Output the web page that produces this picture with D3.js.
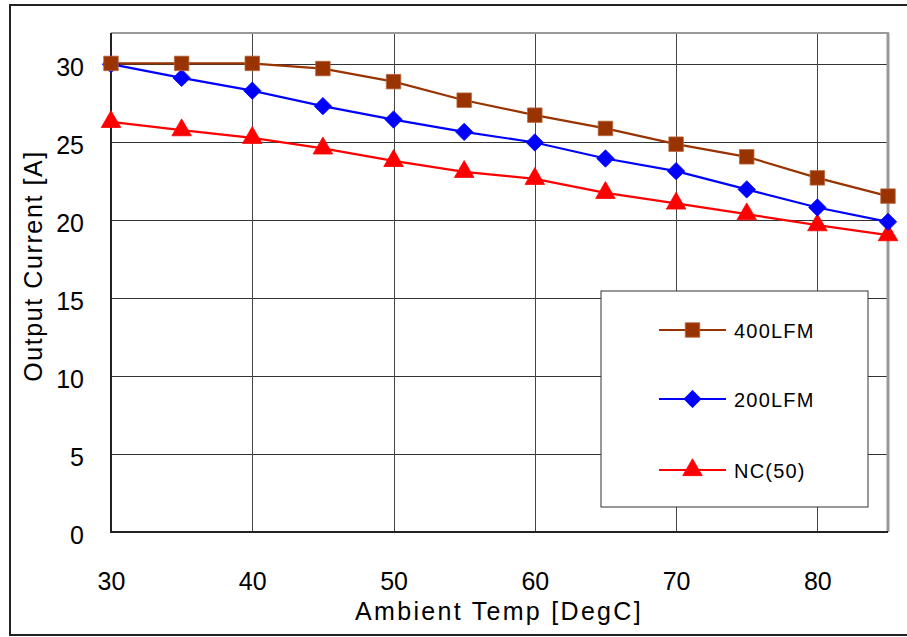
<!DOCTYPE html>
<html>
<head>
<meta charset="utf-8">
<script src="https://cdn.jsdelivr.net/npm/d3@7"></script>
<style>
  html, body { margin: 0; padding: 0; background: #fff; }
  svg { display: block; }
  text { font-family: "Liberation Sans", Arial, sans-serif; fill: #000; }
</style>
</head>
<body>
<svg id="chart" width="907" height="637"></svg>
<script>
// ---- data ----
const temps = [30, 35, 40, 45, 50, 55, 60, 65, 70, 75, 80, 85];
const lfm400 = [30.05, 30.05, 30.05, 29.72, 28.88, 27.69, 26.73, 25.88, 24.87, 24.06, 22.71, 21.54];
const lfm200 = [30.0, 29.12, 28.3, 27.31, 26.45, 25.66, 24.98, 23.95, 23.14, 21.97, 20.81, 19.89];
const nc50   = [26.3, 25.77, 25.28, 24.6, 23.8, 23.1, 22.65, 21.75, 21.07, 20.38, 19.68, 19.04];
const seriesNames = ["400LFM", "200LFM", "NC(50)"];
const xTicks = [30, 40, 50, 60, 70, 80];
const yTicks = [0, 5, 10, 15, 20, 25, 30];
const xTitle = "Ambient Temp [DegC]";
const yTitle = "Output Current [A]";

const svg = d3.select("#chart");

// outer frame
svg.append("rect").attr("x", 10).attr("y", 5).attr("width", 920).attr("height", 630)
  .attr("fill", "#fff").attr("stroke", "#222").attr("stroke-width", 2);

const L = 111, R = 888, T = 33, B = 532;
const x = d3.scaleLinear().domain([30, 85]).range([L, R]);
const y = d3.scaleLinear().domain([0, 32]).range([B, T]);

// plot background
svg.append("rect").attr("x", L).attr("y", T).attr("width", R - L).attr("height", B - T).attr("fill", "#fff");

// grid
svg.append("g").selectAll("line").data(yTicks.filter(d => d > 0)).join("line")
  .attr("x1", L).attr("x2", R).attr("y1", d => Math.round(y(d)) + 0.5).attr("y2", d => Math.round(y(d)) + 0.5)
  .attr("stroke", "#333").attr("stroke-width", 1);
svg.append("g").selectAll("line").data(xTicks.filter(d => d > 30)).join("line")
  .attr("y1", T).attr("y2", B).attr("x1", d => Math.round(x(d)) + 0.5).attr("x2", d => Math.round(x(d)) + 0.5)
  .attr("stroke", "#444").attr("stroke-width", 1);

// plot borders
svg.append("line").attr("x1", L).attr("x2", R + 1).attr("y1", T).attr("y2", T).attr("stroke", "#999").attr("stroke-width", 2);
svg.append("line").attr("x1", R).attr("x2", R).attr("y1", T).attr("y2", B).attr("stroke", "#999").attr("stroke-width", 3);
svg.append("line").attr("x1", L).attr("x2", L).attr("y1", T).attr("y2", B + 1).attr("stroke", "#222").attr("stroke-width", 2);
svg.append("line").attr("x1", L).attr("x2", R).attr("y1", B).attr("y2", B).attr("stroke", "#222").attr("stroke-width", 2);

// axes via d3 (labels only)
const xAxis = d3.axisBottom(x).tickValues(xTicks).tickSize(0).tickPadding(0);
const gx = svg.append("g").attr("transform", `translate(0,${B})`).call(xAxis);
gx.select(".domain").remove();
gx.selectAll("text").attr("y", 58).attr("dy", null).style("font-size", "25px")
  .style("font-family", "'Liberation Sans', Arial, sans-serif").attr("fill", "#000");

const yAxis = d3.axisLeft(y).tickValues(yTicks).tickSize(0).tickPadding(0);
const gy = svg.append("g").attr("transform", `translate(${L},0)`).call(yAxis);
gy.select(".domain").remove();
gy.selectAll("text").attr("x", -27).attr("dy", "0.45em").style("font-size", "25px")
  .style("font-family", "'Liberation Sans', Arial, sans-serif").attr("fill", "#000");

// titles
svg.append("text").attr("x", 499).attr("y", 620).attr("text-anchor", "middle")
  .style("font-size", "25px").style("letter-spacing", "2.3px").text(xTitle);
svg.append("text").attr("transform", "translate(42,266) rotate(-90)").attr("text-anchor", "middle")
  .style("font-size", "25px").style("letter-spacing", "1.6px").text(yTitle);

// series
const series = [
  { name: seriesNames[0], values: lfm400, color: "#993300", stroke: "#b8643a", sym: d3.symbolSquare, size: 210, rot: 0 },
  { name: seriesNames[1], values: lfm200, color: "#0000ff", stroke: "#0000ff", sym: d3.symbolSquare, size: 150, rot: 45 },
  { name: seriesNames[2], values: nc50,   color: "#ff0000", stroke: "#ff0000", sym: d3.symbolTriangle, size: 165, rot: 0 }
];
const line = d3.line().x((d, i) => x(temps[i])).y(d => y(d));

const plot = svg.append("g");
series.slice().reverse().forEach(s => {
  plot.append("path").attr("d", line(s.values)).attr("fill", "none")
    .attr("stroke", s.color).attr("stroke-width", 2.2);
});
series.slice().reverse().forEach(s => {
  plot.append("g").selectAll("path").data(s.values).join("path")
    .attr("transform", (d, i) => `translate(${x(temps[i])},${y(d)}) rotate(${s.rot})`)
    .attr("d", d3.symbol().type(s.sym).size(s.size))
    .attr("fill", s.color).attr("stroke", s.stroke).attr("stroke-width", 0.8);
});

// legend
const lg = svg.append("g");
lg.append("rect").attr("x", 601).attr("y", 291).attr("width", 267).attr("height", 216)
  .attr("fill", "#fff").attr("stroke", "#333").attr("stroke-width", 1);
const ly = [330, 399, 470];
series.forEach((s, i) => {
  lg.append("line").attr("x1", 659).attr("x2", 726).attr("y1", ly[i]).attr("y2", ly[i])
    .attr("stroke", s.color).attr("stroke-width", 2.2);
  lg.append("path").attr("transform", `translate(692.5,${ly[i]}) rotate(${s.rot})`)
    .attr("d", d3.symbol().type(s.sym).size(s.size))
    .attr("fill", s.color).attr("stroke", s.stroke).attr("stroke-width", 0.8);
  lg.append("text").attr("x", 734).attr("y", ly[i] + 7.5)
    .style("font-size", "20px").style("letter-spacing", "1.2px").text(s.name);
});
</script>
</body>
</html>
